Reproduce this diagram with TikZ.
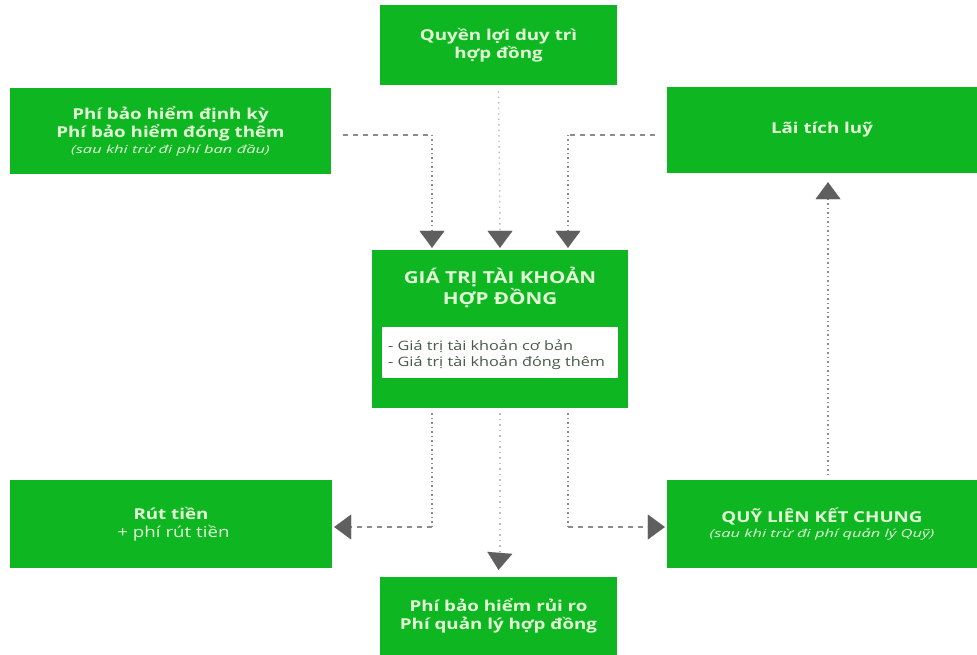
\documentclass[tikz,border=0pt]{standalone}
\usepackage{fontspec}
\setmainfont{Open Sans}[FakeStretch=1.25]
\newfontfamily\notefont{Open Sans}[FakeStretch=1.5]
\usetikzlibrary{arrows.meta}
\definecolor{boxgreen}{RGB}{14,182,34}
\definecolor{txtgreen}{RGB}{226,255,214}
\definecolor{arrowgray}{RGB}{95,95,95}
\definecolor{linegray}{RGB}{140,140,140}
\definecolor{innertxt}{RGB}{70,90,70}
\begin{document}
\begin{tikzpicture}[x=1pt,y=-1pt,
  gbox/.style={fill=boxgreen,draw=none,inner sep=0pt,align=center,text=txtgreen,font=\bfseries\fontsize{15}{18.5}\selectfont},
  hline/.style={draw=linegray,line width=1.6pt,dash pattern=on 5pt off 5pt},
  vline/.style={draw=linegray,line width=1.8pt,dash pattern=on 1.5pt off 3pt},
  vlight/.style={draw=linegray!55,line width=1.4pt,dash pattern=on 1.5pt off 4pt},
  tip/.style={draw=arrowgray,line width=0.01pt,-{Triangle[width=25pt,length=17pt,fill=arrowgray]}}
]
\useasboundingbox (0,0) rectangle (977,655);
% boxes
\node[gbox,minimum width=237pt,minimum height=80pt] (qloi) at (498.5,45) {Quyền lợi duy trì\\hợp đồng};
\node[gbox,minimum width=321pt,minimum height=86pt] (phi) at (170.5,131) {Phí bảo hiểm định kỳ\\Phí bảo hiểm đóng thêm\\[-3pt]{\normalfont\notefont\itshape\fontsize{11}{13}\selectfont (sau khi trừ đi phí ban đầu)}};
\node[gbox,minimum width=310pt,minimum height=86pt] (lai) at (822,130) {Lãi tích luỹ};
\node[gbox,minimum width=256pt,minimum height=158pt] (acc) at (500,329) {};
\node[gbox,font=\bfseries\fontsize{16.5}{21}\selectfont] (acct) at (500,288) {GIÁ TRỊ TÀI KHOẢN\\HỢP ĐỒNG};
\node[fill=white,minimum width=236pt,minimum height=51pt,inner sep=0pt] (inner) at (500,352.5) {};
\node[anchor=west,align=left,text=innertxt,font=\fontsize{13}{16}\selectfont,inner sep=0pt] (innert) at (388,355) {- Giá trị tài khoản cơ bản\\- Giá trị tài khoản đóng thêm};
\node[gbox,minimum width=322pt,minimum height=88pt] (rut) at (171,524) {Rút tiền\\{\normalfont\fontsize{15}{18.5}\selectfont\ + phí rút tiền}};
\node[gbox,minimum width=310pt,minimum height=88pt] (quy) at (822,524) {QUỸ LIÊN KẾT CHUNG\\[-3pt]{\normalfont\notefont\itshape\fontsize{11}{13}\selectfont (sau khi trừ đi phí quản lý Quỹ)}};
\node[gbox,minimum width=237pt,minimum height=78pt] (rui) at (498.5,616) {Phí bảo hiểm rủi ro\\Phí quản lý hợp đồng};
% bend points
\coordinate (c1) at (432,135);
\coordinate (c2) at (568,135);
\coordinate (c3) at (432,527);
\coordinate (c4) at (568,527);
% top connectors
\draw[hline] ([xshift=12pt]phi.east |- c1) -- (c1);
\draw[vline] (c1) -- (c1 |- 0,231);
\draw[tip] (c1 |- 0,229) -- ([yshift=2pt]c1 |- acc.north);
\draw[hline] ([xshift=-12pt]lai.west |- c2) -- (c2);
\draw[vline] (c2) -- (c2 |- 0,231);
\draw[tip] (c2 |- 0,229) -- ([yshift=2pt]c2 |- acc.north);
\draw[vlight] ([yshift=-6pt]qloi.south) -- (500,231);
\draw[tip] (500,229) -- ([yshift=2pt]acc.north);
% bottom connectors
\draw[vline] (c3 |- 0,413) -- (c3);
\draw[hline] (c3) -- (349,527);
\draw[tip] (351,527) -- ([xshift=2pt]rut.east |- c3);
\draw[vline] (c4 |- 0,413) -- (c4);
\draw[hline] (c4) -- (649,527);
\draw[tip] (647,527) -- ([xshift=-2pt]quy.west |- c4);
\draw[vlight] (500,413) -- (500,553);
\draw[tip] (500,551) -- ([yshift=7pt]rui.north);
% up connector
\draw[vline] (828,475) -- (828,198);
\draw[tip] (828,200) -- ([yshift=-9pt]lai.south -| 828,0);
\end{tikzpicture}
\end{document}
